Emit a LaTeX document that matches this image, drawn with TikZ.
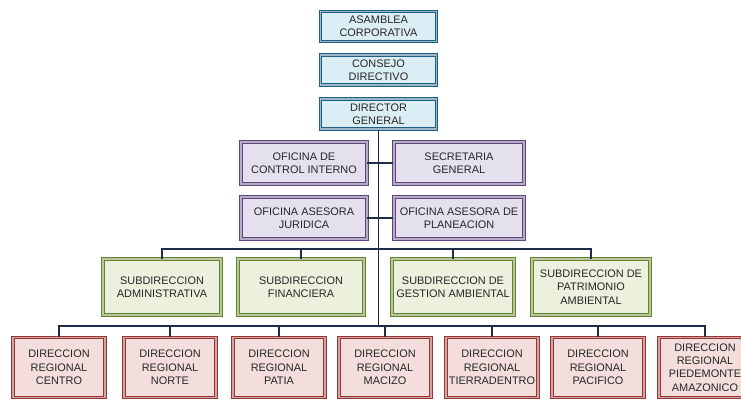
\documentclass[tikz,border=0pt]{standalone}
\usepackage{fontspec}
\setmainfont{Liberation Sans}
\usetikzlibrary{positioning}
\definecolor{blueLine}{HTML}{1F5F86}
\definecolor{blueFill}{HTML}{DCEEF5}
\definecolor{purpleLine}{HTML}{604680}
\definecolor{purpleFill}{HTML}{E5E0ED}
\definecolor{greenLine}{HTML}{64832F}
\definecolor{greenFill}{HTML}{EBF1DD}
\definecolor{redLine}{HTML}{963532}
\definecolor{redFill}{HTML}{F3DEDD}
\definecolor{linkNavy}{HTML}{1E2C4A}
\tikzset{
    unitbox/.style={line width=0.8pt,double distance=1.3pt,align=center,
        inner sep=2pt,font=\fontsize{8.2}{10}\selectfont,text=black!85},
    topbox/.style={unitbox,draw=blueLine,double=blueLine!45,fill=blueFill,
        minimum width=87pt,minimum height=22.5pt},
    officebox/.style={unitbox,draw=purpleLine,double=purpleLine!45,fill=purpleFill,
        minimum height=31pt},
    subbox/.style={unitbox,draw=greenLine,double=greenLine!45,fill=greenFill,
        minimum height=41.5pt},
    regionbox/.style={unitbox,draw=redLine,double=redLine!45,fill=redFill,
        minimum width=69pt,minimum height=45pt},
    link/.style={draw=linkNavy,line width=0.9pt}
}
\begin{document}
\begin{tikzpicture}[x=0.75pt,y=-0.75pt,node distance=9.5pt]
    \fill[white] (0,0) rectangle (741,400);
    \useasboundingbox (0,0) rectangle (741,400);
    \clip (0,0) rectangle (741,400);
    % top of the chart
    \node[topbox] (asamblea) at (378.5,26.5) {ASAMBLEA\\CORPORATIVA};
    \node[topbox] (consejo) [below=of asamblea] {CONSEJO\\DIRECTIVO};
    \node[topbox] (director) [below=of consejo] {DIRECTOR\\GENERAL};
    % offices
    \node[officebox,minimum width=94pt] (control) at (304,163) {OFICINA DE\\CONTROL INTERNO};
    \node[officebox,minimum width=98pt] (secretaria) at (459,163) {SECRETARIA\\GENERAL};
    \node[officebox,minimum width=94pt] (juridica) at (304,218) {OFICINA ASESORA\\JURIDICA};
    \node[officebox,minimum width=98pt] (planeacion) at (459,218) {OFICINA ASESORA DE\\PLANEACION};
    % subdirections
    \node[subbox,minimum width=88pt] (admin) at (162,287) {SUBDIRECCION\\ADMINISTRATIVA};
    \node[subbox,minimum width=94pt] (financiera) at (301,287) {SUBDIRECCION\\FINANCIERA};
    \node[subbox,minimum width=92pt] (gestion) at (453,287) {SUBDIRECCION DE\\GESTION AMBIENTAL};
    \node[subbox,minimum width=88pt] (patrimonio) at (591,287) {SUBDIRECCION DE\\PATRIMONIO\\AMBIENTAL};
    % regional offices
    \node[regionbox] (centro) at (59,367.5) {DIRECCION\\REGIONAL\\CENTRO};
    \node[regionbox] (norte) at (170,367.5) {DIRECCION\\REGIONAL\\NORTE};
    \node[regionbox] (patia) at (279,367.5) {DIRECCION\\REGIONAL\\PATIA};
    \node[regionbox] (macizo) at (385,367.5) {DIRECCION\\REGIONAL\\MACIZO};
    \node[regionbox] (tierradentro) at (492,367.5) {DIRECCION\\REGIONAL\\TIERRADENTRO};
    \node[regionbox] (pacifico) at (598,367.5) {DIRECCION\\REGIONAL\\PACIFICO};
    \node[regionbox] (piedemonte) at (705,367.5) {DIRECCION\\REGIONAL\\PIEDEMONTE\\AMAZONICO};
    \coordinate (subbar) at (378,249);
    \coordinate (regbar) at (378,326);
    % connectors
    \draw[link] (director.south) -- (director.south |- regbar);
    \draw[link] (control.east) -- (control.east -| director.south);
    \draw[link] (secretaria.west) -- (secretaria.west -| director.south);
    \draw[link] (juridica.east) -- (juridica.east -| director.south);
    \draw[link] (planeacion.west) -- (planeacion.west -| director.south);
    \draw[link] (admin.north) -- (admin.north |- subbar) -| (patrimonio.north);
    \draw[link] (financiera.north) -- (financiera.north |- subbar);
    \draw[link] (gestion.north) -- (gestion.north |- subbar);
    \draw[link] (centro.north) -- (centro.north |- regbar) -| (piedemonte.north);
    \draw[link] (norte.north) -- (norte.north |- regbar);
    \draw[link] (patia.north) -- (patia.north |- regbar);
    \draw[link] (macizo.north) -- (macizo.north |- regbar);
    \draw[link] (tierradentro.north) -- (tierradentro.north |- regbar);
    \draw[link] (pacifico.north) -- (pacifico.north |- regbar);
\end{tikzpicture}
\end{document}
